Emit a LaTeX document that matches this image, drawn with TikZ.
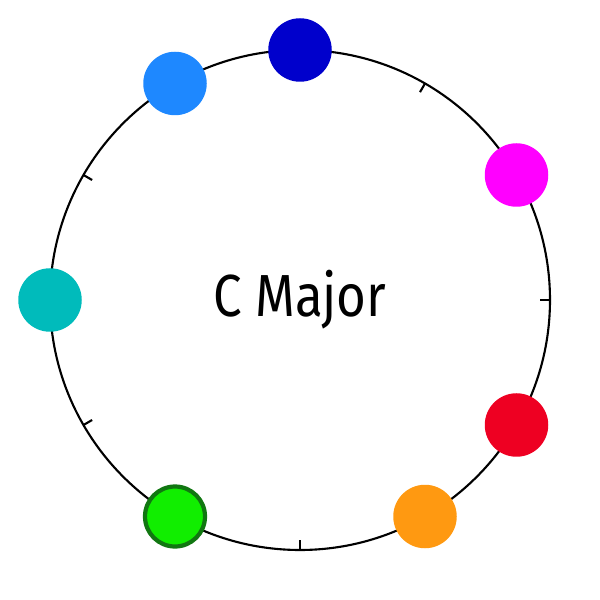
\documentclass[tikz,border=0pt]{standalone}
\usepackage{fontspec}
\usetikzlibrary{calc}
\setmainfont[FakeStretch=0.86]{Fira Sans}
\definecolor{cdb}{HTML}{0000CC}
\definecolor{clb}{HTML}{1E88FF}
\definecolor{cmg}{HTML}{FF00FF}
\definecolor{crd}{HTML}{EE0022}
\definecolor{cor}{HTML}{FF9911}
\definecolor{cgr}{HTML}{11EE00}
\definecolor{cgrd}{HTML}{117711}
\definecolor{ctl}{HTML}{00BBBB}
\tikzset{
  notedot/.style={circle, inner sep=0pt, minimum size=0.635cm},
  tickmark/.style={line width=0.6pt},
  ring/.style={line width=0.6pt}
}
\begin{document}
\begin{tikzpicture}
\useasboundingbox (0,0) rectangle (6,6);
\coordinate (o) at (3,3);
\draw[ring] (o) circle (2.5);
\foreach \a in {1,3,6,8,10}{
  \draw[tickmark] ($(o)+(90-30*\a:2.5)$) -- ($(o)+(90-30*\a:2.4)$);
}
\node[notedot, fill=cdb] (n0) at ($(o)+(90:2.5)$) {};
\node[notedot, fill=cmg] (n2) at ($(o)+(30:2.5)$) {};
\node[notedot, fill=crd] (n4) at ($(o)+(-30:2.5)$) {};
\node[notedot, fill=cor] (n5) at ($(o)+(-60:2.5)$) {};
\node[notedot, fill=cgr, draw=cgrd, line width=1.2pt, minimum size=0.6cm] (n7) at ($(o)+(-120:2.5)$) {};
\node[notedot, fill=ctl] (n9) at ($(o)+(180:2.5)$) {};
\node[notedot, fill=clb] (n11) at ($(o)+(120:2.5)$) {};
\node[font=\fontsize{16.9pt}{18pt}\selectfont] (t) at (o) {C Major};
\end{tikzpicture}
\end{document}
